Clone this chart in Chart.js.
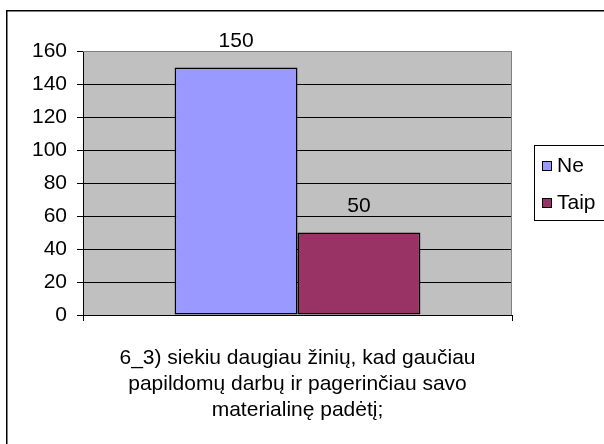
<!DOCTYPE html>
<html>
<head>
<meta charset="utf-8">
<script src="https://cdn.jsdelivr.net/npm/chart.js@4.4.0/dist/chart.umd.min.js"></script>
<style>
	html, body { margin: 0; padding: 0; background: #fff; }
	canvas { display: block; }
</style>
</head>
<body>
<canvas id="answers_chart" width="604" height="444"></canvas>
<script>
var categories = ['6_3) siekiu daugiau žinių, kad gaučiau papildomų darbų ir pagerinčiau savo materialinę padėtį;'],
	titleLines = ['6_3) siekiu daugiau žinių, kad gaučiau', 'papildomų darbų ir pagerinčiau savo', 'materialinę padėtį;'],
	seriesNames = ['Ne', 'Taip'],
	seriesValues = [[150], [50]],
	colors = ['#9999FF', '#993366'],
	yTicks = [0, 20, 40, 60, 80, 100, 120, 140, 160],
	font = '"Liberation Sans", Arial, sans-serif';

// gray plot background, gray top/right edge, outer frame
var framePlugin = {
	id: 'frame',
	beforeDraw: function(chart) {
		const ctx = chart.ctx, a = chart.chartArea;
		ctx.save();
		ctx.fillStyle = '#C0C0C0';
		ctx.fillRect(a.left, a.top, a.right - a.left, a.bottom - a.top);
		ctx.restore();
	},
	afterDraw: function(chart) {
		const ctx = chart.ctx, a = chart.chartArea;
		ctx.save();
		ctx.strokeStyle = '#808080';
		ctx.lineWidth = 1;
		ctx.beginPath();
		ctx.moveTo(Math.round(a.left), Math.round(a.top) + 0.5);
		ctx.lineTo(Math.round(a.right) - 0.5, Math.round(a.top) + 0.5);
		ctx.lineTo(Math.round(a.right) - 0.5, Math.round(a.bottom));
		ctx.stroke();

		ctx.strokeStyle = '#000';
		ctx.lineWidth = 1.5;
		ctx.beginPath();
		ctx.moveTo(6.75, chart.height);
		ctx.lineTo(6.75, 10.75);
		ctx.lineTo(chart.width, 10.75);
		ctx.stroke();
		ctx.restore();
	}
};

// value labels above bars + the category text under the axis
var labelsPlugin = {
	id: 'valueLabels',
	afterDatasetsDraw: function(chart) {
		const ctx = chart.ctx, a = chart.chartArea;
		ctx.save();
		ctx.fillStyle = '#000';
		ctx.font = '21px ' + font;
		ctx.textAlign = 'center';
		ctx.textBaseline = 'alphabetic';
		chart.data.datasets.forEach(function(ds, i) {
			chart.getDatasetMeta(i).data.forEach(function(bar, j) {
				ctx.fillText(String(ds.data[j]), bar.x, bar.y - 20.5);
			});
		});

		const cx = (a.left + a.right) / 2;
		for (let i = 0; i < titleLines.length; ++i) {
			ctx.fillText(titleLines[i], cx, 364 + i * 26);
		}
		ctx.restore();
	}
};

// boxed legend on the right, as in the original
var legendPlugin = {
	id: 'boxLegend',
	afterDraw: function(chart) {
		const ctx = chart.ctx;
		ctx.save();
		ctx.strokeStyle = '#000';
		ctx.lineWidth = 1;
		ctx.strokeRect(534.5, 145.5, 80, 75);
		ctx.font = '21px ' + font;
		ctx.textAlign = 'left';
		ctx.textBaseline = 'alphabetic';
		chart.data.datasets.forEach(function(ds, i) {
			const y = 161 + i * 37;
			ctx.fillStyle = ds.backgroundColor;
			ctx.fillRect(542, y, 10, 10);
			ctx.strokeRect(542.5, y + 0.5, 9, 9);
			ctx.fillStyle = '#000';
			ctx.fillText(ds.label, 557, y + 11);
		});
		ctx.restore();
	}
};

var config = {
	type: 'bar',
	data: {
		labels: categories,
		datasets: seriesNames.map(function(name, i) {
			return {
				label: name,
				data: seriesValues[i],
				backgroundColor: colors[i],
				borderColor: '#000',
				borderWidth: 1.5,
				borderSkipped: false,
				categoryPercentage: 0.573,
				barPercentage: 1
			};
		})
	},
	options: {
		responsive: false,
		animation: false,
		layout: { padding: { top: 51, right: 92, left: 0, bottom: 0 } },
		plugins: {
			legend: { display: false },
			tooltip: { enabled: false }
		},
		scales: {
			x: {
				afterFit: function(scale) { scale.height = 129; },
				ticks: { display: false },
				grid: { drawOnChartArea: false, drawTicks: true, tickLength: 6, tickColor: '#000' },
				border: { display: true, color: '#000', width: 1 }
			},
			y: {
				min: 0,
				max: 160,
				afterFit: function(scale) { scale.width = 83; },
				afterBuildTicks: function(scale) {
					scale.ticks = yTicks.map(function(v) { return { value: v }; });
				},
				ticks: { color: '#000', padding: 10, font: { family: font, size: 21 } },
				grid: {
					color: function(c) { return c.tick && c.tick.value === 160 ? '#808080' : '#000'; },
					lineWidth: 1,
					drawTicks: true,
					tickLength: 6,
					tickColor: '#000'
				},
				border: { display: true, color: '#000', width: 1 }
			}
		}
	},
	plugins: [framePlugin, labelsPlugin, legendPlugin]
};

new Chart(document.getElementById('answers_chart').getContext('2d'), config);
</script>
</body>
</html>
